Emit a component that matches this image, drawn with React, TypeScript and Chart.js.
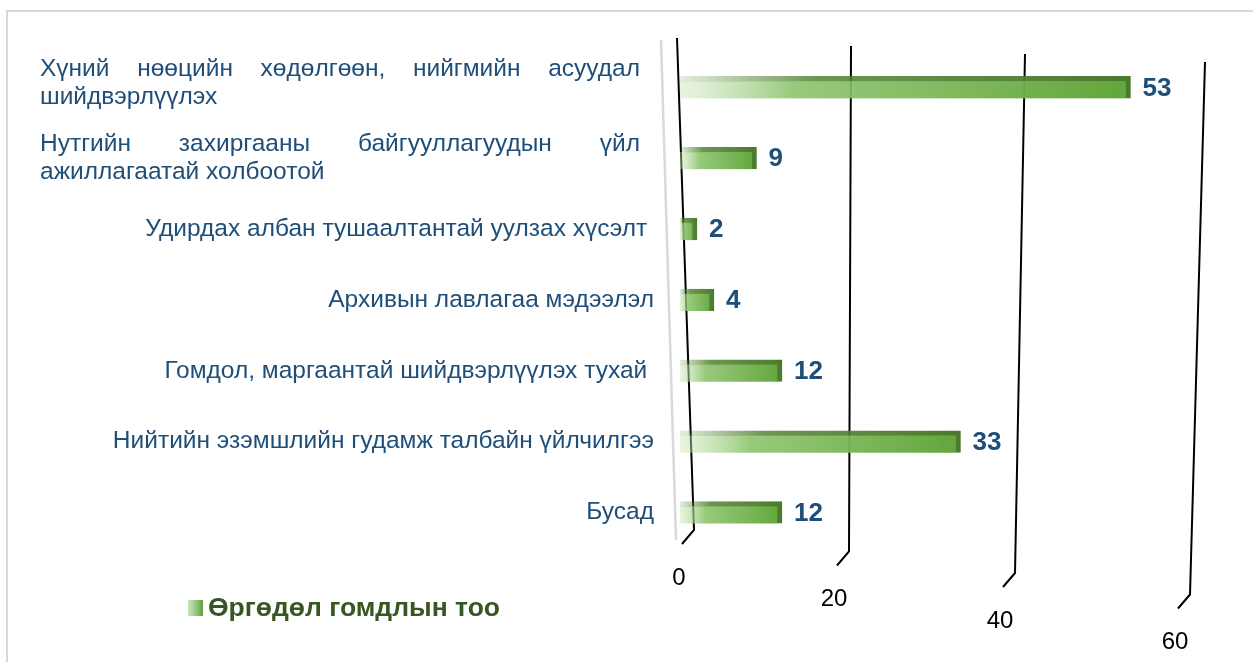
import React, { useEffect, useRef } from "react";
import { Chart, registerables } from "chart.js";

Chart.register(...registerables);

const categories: (string | string[])[] = [
  ["Хүний нөөцийн хөдөлгөөн, нийгмийн асуудал", "шийдвэрлүүлэх"],
  ["Нутгийн захиргааны байгууллагуудын үйл", "ажиллагаатай холбоотой"],
  "Удирдах албан тушаалтантай уулзах хүсэлт ",
  "Архивын лавлагаа мэдээлэл",
  "Гомдол, маргаантай шийдвэрлүүлэх тухай ",
  "Нийтийн эзэмшлийн гудамж талбайн үйлчилгээ",
  "Бусад",
];
const values: number[] = [53, 9, 2, 4, 12, 33, 12];
const tickValues: number[] = [0, 20, 40, 60];
const seriesName = "Өргөдөл гомдлын тоо";

const FONT = 'Arial, "Liberation Sans", sans-serif';
const LABEL_COLOR = "#1F4E79";

const decorPlugin = {
  id: "decor",
  beforeDatasetsDraw(chart: any) {
    const { ctx, chartArea, scales } = chart;
    const xs = scales.x;
    const x0 = xs.getPixelForValue(0);
    ctx.save();
    // back wall edge (light gray)
    ctx.strokeStyle = "#D9D9D9";
    ctx.lineWidth = 2.5;
    ctx.beginPath();
    ctx.moveTo(x0 - 19, chartArea.top - 12);
    ctx.lineTo(x0 - 4, chartArea.bottom - 8);
    ctx.stroke();
    // grid lines with feet + staggered tick labels
    ctx.strokeStyle = "#000";
    ctx.lineWidth = 2;
    ctx.fillStyle = "#000";
    ctx.font = `24px ${FONT}`;
    ctx.textAlign = "center";
    ctx.textBaseline = "middle";
    tickValues.forEach((v, i) => {
      const px = xs.getPixelForValue(v);
      const topY = 38 + 8 * i;
      const footY = chartArea.bottom - 18 + 21.5 * i;
      const topX = px + 1 + (i - 1) * 4 + (i === 3 ? 6 : 0);
      const botX = px + (i === 0 ? 14 : i === 1 ? -1 : i === 2 ? -5 : 0);
      ctx.beginPath();
      ctx.moveTo(topX, topY);
      ctx.lineTo(botX, footY);
      ctx.lineTo(botX - 12, footY + 14);
      ctx.stroke();
      ctx.fillText(String(v), botX - 15, footY + 48);
    });
    ctx.restore();
  },
  afterDatasetsDraw(chart: any) {
    const { ctx, scales } = chart;
    const ys = scales.y;
    const xs = scales.x;
    const meta = chart.getDatasetMeta(0);
    ctx.save();
    // value labels
    ctx.font = `bold 26px ${FONT}`;
    ctx.fillStyle = LABEL_COLOR;
    ctx.textAlign = "left";
    ctx.textBaseline = "middle";
    meta.data.forEach((bar: any, i: number) => {
      ctx.fillText(String(values[i]), bar.x + 12, bar.y + 1);
    });
    // category labels
    ctx.font = `24.5px ${FONT}`;
    const leftEdge = 40;
    const rightEdge = xs.getPixelForValue(0) - 26;
    const lineH = 28;
    categories.forEach((cat, i) => {
      const cy = ys.getPixelForValue(i) - (i === 0 ? 4 : 0);
      const lines = Array.isArray(cat) ? cat : [cat];
      const y0 = cy - ((lines.length - 1) * lineH) / 2;
      lines.forEach((line, li) => {
        const y = y0 + li * lineH;
        if (lines.length === 1) {
          ctx.textAlign = "right";
          ctx.fillText(line, rightEdge, y);
        } else if (li < lines.length - 1) {
          const words = line.split(" ");
          const widths = words.map((w: string) => ctx.measureText(w).width);
          const sum = widths.reduce((a: number, b: number) => a + b, 0);
          const gap = (rightEdge - 14 - leftEdge - sum) / (words.length - 1);
          let x = leftEdge;
          ctx.textAlign = "left";
          words.forEach((w: string, wi: number) => {
            ctx.fillText(w, x, y);
            x += widths[wi] + gap;
          });
        } else {
          ctx.textAlign = "left";
          ctx.fillText(line, leftEdge, y);
        }
      });
    });
    // legend
    const lx = 188;
    const ly = 608;
    const g = ctx.createLinearGradient(lx, 0, lx + 15, 0);
    g.addColorStop(0, "rgba(169,208,142,0.6)");
    g.addColorStop(1, "#5E9E3A");
    ctx.fillStyle = g;
    ctx.fillRect(lx, ly - 8, 15, 16);
    ctx.font = `bold 26.5px ${FONT}`;
    ctx.fillStyle = "#375623";
    ctx.textAlign = "left";
    ctx.fillText(chart.data.datasets[0].label, lx + 20, ly + 1);
    ctx.restore();
  },
};

function barGradient(ctx: any, dark: boolean) {
  const chart = ctx.chart;
  if (!chart.chartArea || ctx.type !== "data") return dark ? "#4F7F2F" : "#70AD47";
  const xs = chart.scales.x;
  const a = xs.getPixelForValue(0);
  const b = xs.getPixelForValue(ctx.raw);
  const g = chart.ctx.createLinearGradient(a, 0, Math.max(b, a + 1), 0);
  if (dark) {
    g.addColorStop(0, "rgba(84,130,53,0.15)");
    g.addColorStop(0.3, "rgba(84,130,53,0.85)");
    g.addColorStop(1, "#4B7A2C");
  } else {
    g.addColorStop(0, "rgba(200,228,180,0.4)");
    g.addColorStop(0.25, "rgba(140,196,108,0.9)");
    g.addColorStop(1, "#62A53B");
  }
  return g;
}

export default function App() {
  const ref = useRef<HTMLCanvasElement | null>(null);
  useEffect(() => {
    if (!ref.current) return;
    const chart = new Chart(ref.current, {
      type: "bar",
      data: {
        labels: categories,
        datasets: [
          {
            label: seriesName,
            data: values,
            backgroundColor: (c: any) => barGradient(c, false),
            borderColor: (c: any) => barGradient(c, true),
            borderWidth: { top: 5, right: 5, bottom: 0, left: 0 },
            borderSkipped: false,
            barThickness: 22,
          },
        ],
      },
      options: {
        indexAxis: "y",
        responsive: false,
        animation: false,
        devicePixelRatio: 1,
        layout: { padding: { left: 680, right: 63, top: 52, bottom: 114 } },
        plugins: {
          legend: { display: false },
          tooltip: { enabled: false },
        },
        scales: {
          x: { display: false, min: 0, max: 60 },
          y: { display: false },
        },
      },
      plugins: [decorPlugin],
    } as any);
    return () => chart.destroy();
  }, []);
  return (
    <div
      style={{
        position: "fixed",
        left: 0,
        top: 0,
        width: 1253,
        height: 662,
        overflow: "hidden",
        background: "#fff",
      }}
    >
      <div
        style={{
          position: "absolute",
          left: 6,
          top: 10,
          width: 1300,
          height: 700,
          border: "2px solid #D9D9D9",
        }}
      />
      <canvas ref={ref} width={1253} height={662} style={{ position: "absolute", left: 0, top: 0 }} />
    </div>
  );
}
